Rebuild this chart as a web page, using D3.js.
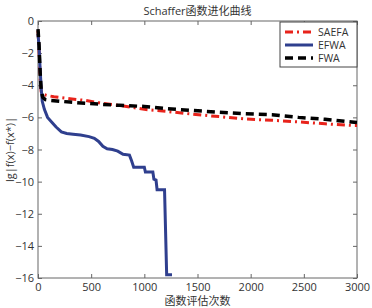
<!DOCTYPE html>
<html>
<head>
<meta charset="utf-8">
<script src="https://cdn.jsdelivr.net/npm/d3@7"></script>
<style>
  body { margin: 0; background: #fff; }
  text { font-family: "Open Sans", "Noto Sans CJK SC", sans-serif; fill: #333; }
</style>
</head>
<body>
<div id="chart"></div>
<script>
// curve data: [evaluations, lg|f(x)-f(x*)|]
const saefa = [[0,-0.6],[10,-1.8],[20,-3.5],[30,-4.4],[45,-4.55],[80,-4.63],[150,-4.72],[300,-4.84],[450,-4.95],[600,-5.12],[765,-5.25],[1000,-5.5],[1200,-5.62],[1450,-5.8],[1700,-5.95],[1950,-6.1],[2200,-6.18],[2450,-6.28],[2700,-6.4],[2950,-6.5],[3000,-6.5]];
const efwa = [[0,-0.8],[10,-1.6],[20,-3.0],[30,-4.2],[40,-5.0],[60,-5.5],[90,-6.0],[130,-6.3],[170,-6.6],[220,-6.9],[270,-7.0],[330,-7.05],[400,-7.1],[480,-7.2],[530,-7.3],[570,-7.5],[610,-7.8],[650,-7.95],[700,-8.0],[750,-8.1],[800,-8.3],[860,-8.35],[880,-8.7],[900,-9.1],[1000,-9.1],[1010,-9.4],[1080,-9.4],[1090,-9.85],[1110,-9.9],[1120,-10.5],[1190,-10.5],[1210,-15.8],[1260,-15.8]];
const fwa = [[0,-0.5],[10,-1.5],[20,-3.2],[30,-4.3],[45,-4.75],[70,-4.9],[110,-4.94],[300,-5.05],[600,-5.19],[765,-5.25],[1000,-5.32],[1200,-5.45],[1450,-5.57],[1700,-5.68],[1950,-5.77],[2200,-5.83],[2450,-6.0],[2700,-6.12],[2950,-6.29],[3000,-6.32]];

const xTicks = [0, 500, 1000, 1500, 2000, 2500, 3000];
const yTicks = [0, -2, -4, -6, -8, -10, -12, -14, -16];

const series = [
  { name: "SAEFA", data: saefa, color: "#e8231b", width: 3, dash: "8,4,2,4" },
  { name: "EFWA", data: efwa, color: "#2f3f8e", width: 3, dash: null },
  { name: "FWA", data: fwa, color: "#000", width: 3.5, dash: "8,5" }
];

const W = 372, H = 308;
const margin = { top: 21, right: 15, bottom: 30, left: 38 };
const width = W - margin.left - margin.right;
const height = H - margin.top - margin.bottom;

const svg = d3.select("#chart").append("svg")
  .attr("width", W).attr("height", H);

const g = svg.append("g")
  .attr("transform", `translate(${margin.left},${margin.top})`);

const x = d3.scaleLinear().domain([0, 3000]).range([0, width]);
const y = d3.scaleLinear().domain([-16, 0]).range([height, 0]);

const fmt = d => d < 0 ? "\u2212" + Math.abs(d) : String(d);

// axes with inward ticks, matlab style
const axisStyle = sel => {
  sel.select(".domain").remove();
  sel.selectAll(".tick line").attr("stroke", "#666");
  sel.selectAll(".tick text").style("font-size", "11px").attr("fill", "#333");
};

g.append("g").attr("transform", `translate(0,${height})`)
  .call(d3.axisBottom(x).tickValues(xTicks).tickSize(-4).tickPadding(5).tickFormat(fmt))
  .call(axisStyle);
g.append("g")
  .call(d3.axisTop(x).tickValues(xTicks).tickSize(-4).tickFormat(""))
  .call(axisStyle);
g.append("g")
  .call(d3.axisLeft(y).tickValues(yTicks).tickSize(-4).tickPadding(4).tickFormat(fmt))
  .call(axisStyle);
g.append("g").attr("transform", `translate(${width},0)`)
  .call(d3.axisRight(y).tickValues(yTicks).tickSize(-4).tickFormat(""))
  .call(axisStyle);

g.append("rect")
  .attr("width", width).attr("height", height)
  .attr("fill", "none").attr("stroke", "#666").attr("stroke-width", 1);

const line = d3.line().x(d => x(d[0])).y(d => y(d[1]));

g.selectAll(".curve")
  .data(series)
  .enter().append("path")
  .attr("class", "curve")
  .attr("d", d => line(d.data))
  .attr("fill", "none")
  .attr("stroke", d => d.color)
  .attr("stroke-width", d => d.width)
  .attr("stroke-dasharray", d => d.dash);

// legend
const lg = g.append("g").attr("transform", `translate(${width - 77},1)`);
lg.append("rect")
  .attr("width", 77).attr("height", 45)
  .attr("fill", "#fff").attr("stroke", "#444").attr("stroke-width", 1);
const item = lg.selectAll(".item")
  .data(series)
  .enter().append("g")
  .attr("transform", (d, i) => `translate(0,${10 + i * 13})`);
item.append("line")
  .attr("x1", 5).attr("x2", 33)
  .attr("stroke", d => d.color)
  .attr("stroke-width", d => d.width)
  .attr("stroke-dasharray", d => d.dash);
item.append("text")
  .attr("x", 38).attr("dy", "0.35em")
  .style("font-size", "10.5px")
  .text(d => d.name);

// title and axis labels
svg.append("text")
  .attr("x", margin.left + width / 2).attr("y", 15)
  .attr("text-anchor", "middle")
  .style("font-size", "11px")
  .text("Schaffer函数进化曲线");

svg.append("text")
  .attr("x", margin.left + width / 2).attr("y", 305)
  .attr("text-anchor", "middle")
  .style("font-size", "11px")
  .text("函数评估次数");

svg.append("text")
  .attr("transform", `translate(14,${margin.top + height / 2}) rotate(-90)`)
  .attr("text-anchor", "middle")
  .style("font-size", "11px")
  .text("lg|f(x)\u2212f(x*)|");
</script>
</body>
</html>
